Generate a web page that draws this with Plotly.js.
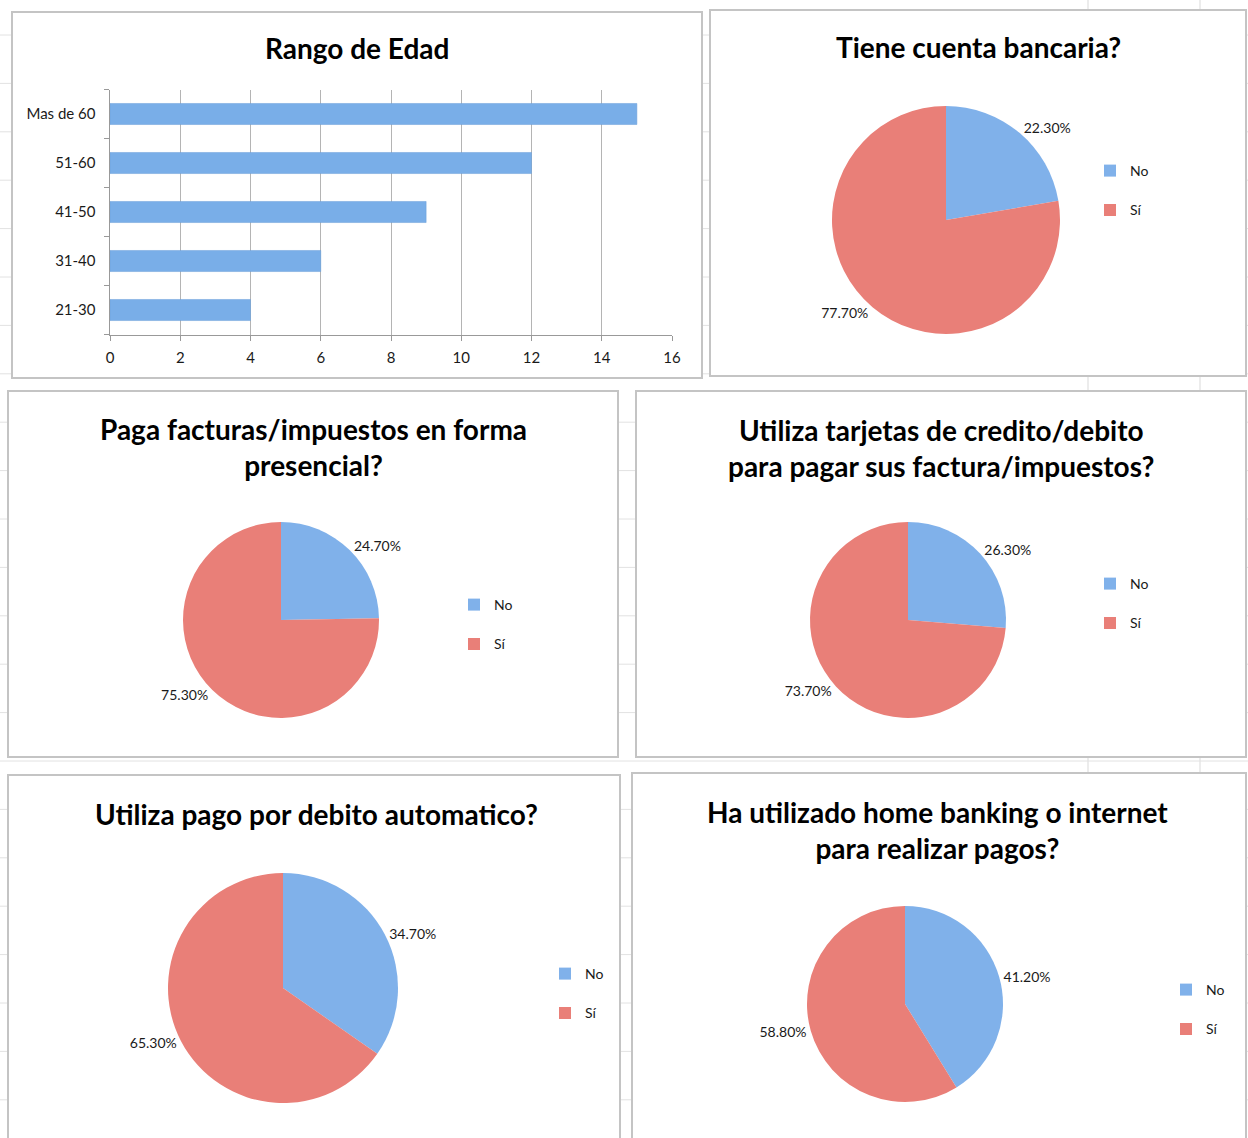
<!DOCTYPE html>
<html>
<head>
<meta charset="utf-8">
<script src="https://cdn.plot.ly/plotly-3.0.1.min.js"></script>
<style>html,body{margin:0;padding:0;background:#fff;}#chart{width:1248px;height:1138px;}</style>
</head>
<body>
<div id="chart"></div>
<script>
// ---- data ----
const ageCats = ['21-30', '31-40', '41-50', '51-60', 'Mas de 60'];
const ageCounts = [4, 6, 9, 12, 15];
const answers = ['No', 'Sí'];
const tieneCuenta = [22.3, 77.7];
const pagaPresencial = [24.7, 75.3];
const usaTarjetas = [26.3, 73.7];
const debitoAuto = [34.7, 65.3];
const homeBanking = [41.2, 58.8];
const titles = [
  'Rango de Edad',
  'Tiene cuenta bancaria?',
  'Paga facturas/impuestos en forma<br>presencial?',
  'Utiliza tarjetas de credito/debito<br>para pagar sus factura/impuestos?',
  'Utiliza pago por debito automatico?',
  'Ha utilizado home banking o internet<br>para realizar pagos?'
];

// ---- layout helpers ----
const W = 1248, H = 1138;
const fx = x => x / W;
const fy = y => 1 - y / H;

const blue = '#80b1ea', red = '#e97f78';
const FAM = 'Lato, "Open Sans", sans-serif';
const titleFont = {family: FAM, size: 28, color: '#000', weight: 900};
const smallFont = {family: FAM, size: 15, color: '#1a1a1a'};
const legendFont = {family: FAM, size: 14, color: '#1a1a1a'};

// panels: [x0,y0,x1,y1] px
const panels = [
  [12, 12, 702, 378],
  [710, 10, 1246, 376],
  [8, 391, 618, 757],
  [636, 391, 1246, 757],
  [8, 775, 620, 1150],
  [632, 773, 1246, 1150]
];
// pie geometry: center x, center y, radius (px)
const pieGeom = [
  [946, 220, 114],
  [281, 620, 98],
  [908, 620, 98],
  [283, 988, 115],
  [905, 1004, 98]
];
// legend anchors (left, top) px
const legendPos = [
  [1090, 155],
  [454, 589],
  [1090, 568],
  [545, 958],
  [1166, 974]
];
// title centers px
const titlePos = [
  [357, 48], [978, 47], [313, 447], [941, 448], [316, 814], [937, 830]
];

const pieData = [tieneCuenta, pagaPresencial, usaTarjetas, debitoAuto, homeBanking];

const traces = [{
  type: 'bar',
  orientation: 'h',
  x: ageCounts,
  y: ageCats,
  width: 0.43,
  marker: {color: '#79aee8', line: {color: '#6a9fd8', width: 0.5}},
  xaxis: 'x', yaxis: 'y',
  showlegend: false,
  hoverinfo: 'x+y'
}];

pieData.forEach((vals, i) => {
  const [cx, cy, r] = pieGeom[i];
  // invisible zero-width suffix keeps each pie's legend entries separate
  const labels = answers.map(a => a + '\u200b'.repeat(i) + '<br>\u00a0');
  traces.push({
    type: 'pie',
    labels: labels,
    values: vals,
    sort: false,
    direction: 'clockwise',
    rotation: 0,
    marker: {colors: [blue, red], line: {width: 0}},
    textposition: 'outside',
    texttemplate: '%{value:.2f}%',
    outsidetextfont: {family: FAM, size: 14, color: '#1a1a1a'},
    domain: {x: [fx(cx - r), fx(cx + r)], y: [fy(cy + r), fy(cy - r)]},
    legend: i === 0 ? 'legend' : 'legend' + (i + 1),
    showlegend: true,
    hoverinfo: 'percent'
  });
});

// faint spreadsheet cell lines behind the panels
const shapes = [];
[1088, 1200].forEach(x => shapes.push({
  type: 'line', xref: 'paper', yref: 'paper', x0: fx(x), x1: fx(x), y0: 0, y1: 1,
  line: {color: '#d9d9d9', width: 1}, layer: 'below'
}));
for (let y = 35; y < H; y += 48.4) {
  shapes.push({
    type: 'line', xref: 'paper', yref: 'paper', x0: 0, x1: fx(W), y0: fy(y), y1: fy(y),
    line: {color: '#e2e2e2', width: 1}, layer: 'below'
  });
}
panels.forEach(p => shapes.push({
  type: 'rect', xref: 'paper', yref: 'paper',
  x0: fx(p[0]), x1: fx(p[2]), y0: fy(p[3]), y1: fy(p[1]),
  line: {color: '#c4c4c4', width: 2}, fillcolor: '#ffffff', layer: 'below'
}));

const annotations = titles.map((t, i) => ({
  text: '<b>' + t + '</b>', xref: 'paper', yref: 'paper',
  x: fx(titlePos[i][0]), y: fy(titlePos[i][1]),
  xanchor: 'center', yanchor: 'middle',
  showarrow: false, font: titleFont, align: 'center'
}));

const layout = {
  width: W, height: H,
  margin: {l: 0, r: 0, t: 0, b: 0},
  paper_bgcolor: '#fff', plot_bgcolor: 'rgba(0,0,0,0)',
  showlegend: true,
  xaxis: {
    domain: [fx(110), fx(672)], range: [0, 16], dtick: 2, anchor: 'y',
    showgrid: true, gridcolor: '#b4b4b4', gridwidth: 1,
    zeroline: false, showline: true, linecolor: '#999', linewidth: 1.5,
    ticks: 'outside', ticklen: 5, tickcolor: '#999', ticklabelstandoff: 4,
    tickfont: smallFont, fixedrange: true
  },
  yaxis: {
    domain: [fy(334.5), fy(89.5)], anchor: 'x',
    type: 'category', categoryorder: 'array', categoryarray: ageCats,
    showline: true, linecolor: '#999', linewidth: 1.5,
    ticks: 'outside', ticklen: 5, tickcolor: '#999', tickson: 'boundaries',
    tickfont: smallFont, ticklabelstandoff: 10, fixedrange: true
  },
  shapes: shapes,
  annotations: annotations
};

legendPos.forEach((lp, i) => {
  const key = i === 0 ? 'legend' : 'legend' + (i + 1);
  layout[key] = {
    x: fx(lp[0]), y: fy(lp[1]), xanchor: 'left', yanchor: 'top',
    font: legendFont, bgcolor: 'rgba(0,0,0,0)', valign: 'top',
    itemwidth: 30, tracegroupgap: 0
  };
});

Plotly.newPlot('chart', traces, layout, {staticPlot: true});
</script>
</body>
</html>
